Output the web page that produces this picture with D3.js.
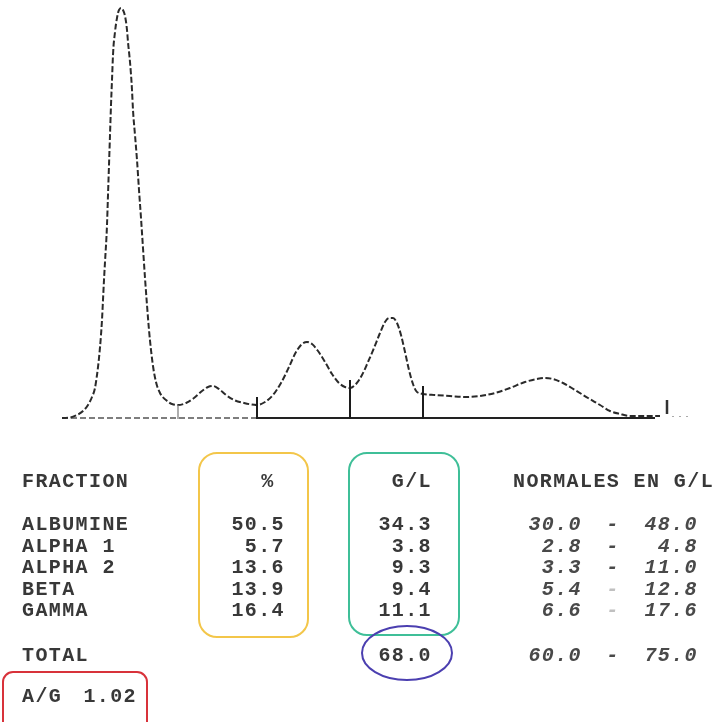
<!DOCTYPE html>
<html>
<head>
<meta charset="utf-8">
<script src="https://cdn.jsdelivr.net/npm/d3@7"></script>
<style>
  html, body { margin: 0; padding: 0; background: #fff; }
  svg { display: block; }
  .txt { font-family: "Liberation Mono", "DejaVu Sans Mono", monospace; font-size: 20px; font-weight: bold; fill: #383838; letter-spacing: 1.4px; }
  .norm { font-style: italic; fill: #4a4a4a; }
</style>
</head>
<body>
<svg id="chart" width="720" height="722"></svg>
<script>
// Serum protein electrophoresis: densitometry trace and fraction table.

// Densitometry trace: migration position (mm) and relative absorbance
const tracePosition = [2, 10, 17, 23, 28, 32, 35, 37, 39, 41, 42, 43, 44, 45, 47, 48, 49, 50, 51, 52, 53, 55, 57, 59, 61, 63, 65, 67, 68, 70, 72, 73, 75, 77, 79, 81, 83, 85, 87, 89, 91, 93, 96, 100, 106, 112, 118, 126, 134, 142, 148, 153, 159, 166, 174, 184, 197, 205, 213, 221, 229, 236, 242, 247, 252, 258, 265, 272, 279, 285, 290, 296, 302, 308, 314, 320, 325, 329, 333, 337, 341, 345, 349, 353, 357, 363, 375, 390, 405, 420, 435, 450, 465, 477, 485, 493, 503, 515, 528, 540, 550, 560, 570, 585, 600];
const traceAbsorbance = [0, 0.5, 3, 7, 13, 21, 30, 43, 60, 83, 98, 118, 138, 156, 193, 223, 253, 283, 313, 338, 363, 386, 400, 408, 410, 408, 402, 388, 376, 356, 328, 308, 283, 258, 228, 200, 170, 140, 113, 88, 68, 52, 36, 25, 18, 14, 13, 15, 20, 27, 31, 32, 29, 23, 18, 15, 13, 16, 23, 35, 51, 66, 74, 76, 74, 67, 56, 44, 35, 31, 30, 34, 43, 56, 70, 85, 96, 100, 100, 95, 83, 66, 48, 34, 26, 24, 23, 22, 21, 22, 25, 30, 36, 39, 40, 39, 35, 28, 20, 13, 7, 4, 2, 2, 2];

// Fraction boundaries along the strip (mm) and end-of-scan marker
const fractionBounds = [118, 197, 290, 363];
const scanEnd = 607;

// Results table
const fractions = ["ALBUMINE", "ALPHA 1", "ALPHA 2", "BETA", "GAMMA"];
const percents = [50.5, 5.7, 13.6, 13.9, 16.4];
const gramsPerLitre = [34.3, 3.8, 9.3, 9.4, 11.1];
const normalLow = [30.0, 2.8, 3.3, 5.4, 6.6];
const normalHigh = [48.0, 4.8, 11.0, 12.8, 17.6];
const totalGramsPerLitre = 68.0;
const totalNormal = [60.0, 75.0];
const agRatio = 1.02;

const svg = d3.select("#chart");
const root = svg.append("g").attr("filter", "url(#soft)");

const defs = svg.append("defs");
defs.append("filter").attr("id", "soft")
  .append("feGaussianBlur").attr("stdDeviation", 0.45);

const x = d3.scaleLinear().domain([0, 640]).range([60, 700]);
const y = d3.scaleLinear().domain([0, 420]).range([418, -2]);

const trace = tracePosition.map((p, i) => [p, traceAbsorbance[i]]);

// absorbance of the trace at a given position (linear between readings)
function traceAt(p) {
  const i = d3.bisector(d => d[0]).left(trace, p);
  if (i <= 0) return trace[0][1];
  if (i >= trace.length) return trace[trace.length - 1][1];
  const a = trace[i - 1], b = trace[i];
  return a[1] + (b[1] - a[1]) * (p - a[0]) / (b[0] - a[0]);
}

// baseline: dashed under albumin / alpha 1, solid afterwards
root.append("line")
  .attr("x1", x(2)).attr("x2", x(fractionBounds[1]))
  .attr("y1", y(0)).attr("y2", y(0))
  .attr("stroke", "#555").attr("stroke-width", 1.6)
  .attr("stroke-dasharray", "6,3");
root.append("line")
  .attr("x1", x(fractionBounds[1])).attr("x2", x(595))
  .attr("y1", y(0)).attr("y2", y(0))
  .attr("stroke", "#222").attr("stroke-width", 2);
root.append("line")
  .attr("x1", x(612)).attr("x2", x(632))
  .attr("y1", y(1.5)).attr("y2", y(1.5))
  .attr("stroke", "#aaa").attr("stroke-width", 1.2)
  .attr("stroke-dasharray", "2,5");

// the trace itself
const line = d3.line()
  .x(d => x(d[0])).y(d => y(d[1]))
  .curve(d3.curveMonotoneX);

root.append("path")
  .datum(trace)
  .attr("d", line)
  .attr("fill", "none")
  .attr("stroke", "#2a2a2a")
  .attr("stroke-width", 2)
  .attr("stroke-dasharray", "6,2.5");

// fraction separators
root.selectAll("line.sep")
  .data(fractionBounds)
  .join("line")
  .attr("class", "sep")
  .attr("x1", d => x(d)).attr("x2", d => x(d))
  .attr("y1", y(-1))
  .attr("y2", (d, i) => y(traceAt(d) + (i === 0 ? 0 : 8)))
  .attr("stroke", (d, i) => i === 0 ? "#777" : "#1a1a1a")
  .attr("stroke-width", (d, i) => i === 0 ? 1.2 : 2);

root.append("line")
  .attr("x1", x(scanEnd)).attr("x2", x(scanEnd))
  .attr("y1", y(4)).attr("y2", y(18))
  .attr("stroke", "#333").attr("stroke-width", 2.5);

// ---- table ----
const fmt = d3.format(".1f");
const colLabel = 22, colPct = 285, colGL = 432, colLow = 582, colDash = 613, colHigh = 698;
const headerY = 487;
const row = d3.scalePoint().domain(fractions).range([530, 616]);
const totalY = 661, agY = 702;

const t = root.append("g").attr("class", "table");

function txt(str, xx, yy, anchor, cls) {
  t.append("text")
    .attr("class", "txt" + (cls ? " " + cls : ""))
    .attr("x", xx).attr("y", yy)
    .attr("text-anchor", anchor || "start")
    .text(str);
}

txt("FRACTION", colLabel, headerY);
txt("%", 268, headerY, "middle");
txt("G/L", colGL, headerY, "end");
txt("NORMALES EN G/L", 513, headerY);

fractions.forEach((f, i) => {
  const yy = row(f);
  txt(f, colLabel, yy);
  txt(fmt(percents[i]), colPct, yy, "end");
  txt(fmt(gramsPerLitre[i]), colGL, yy, "end");
  txt(fmt(normalLow[i]), colLow, yy, "end", "norm");
  t.append("text").attr("class", "txt norm")
    .attr("x", colDash).attr("y", yy).attr("text-anchor", "middle")
    .attr("opacity", i >= 3 ? 0.35 : 1)
    .text("-");
  txt(fmt(normalHigh[i]), colHigh, yy, "end", "norm");
});

txt("TOTAL", colLabel, totalY);
txt(fmt(totalGramsPerLitre), colGL, totalY, "end");
txt(fmt(totalNormal[0]), colLow, totalY, "end", "norm");
txt("-", colDash, totalY, "middle", "norm");
txt(fmt(totalNormal[1]), colHigh, totalY, "end", "norm");

txt("A/G", colLabel, agY);
txt(d3.format(".2f")(agRatio), 137, agY, "end");

// highlight annotations
const ann = svg.append("g").attr("fill", "none").attr("stroke-width", 2);
ann.append("rect").attr("x", 199).attr("y", 453).attr("width", 109).attr("height", 184)
  .attr("rx", 18).attr("stroke", "#f3c64a");
ann.append("rect").attr("x", 349).attr("y", 453).attr("width", 110).attr("height", 182)
  .attr("rx", 18).attr("stroke", "#3fbf98");
ann.append("ellipse").attr("cx", 407).attr("cy", 653).attr("rx", 45).attr("ry", 27)
  .attr("stroke", "#4b3fb0");
ann.append("rect").attr("x", 3).attr("y", 672).attr("width", 144).attr("height", 70)
  .attr("rx", 10).attr("stroke", "#d8323a");
</script>
</body>
</html>
